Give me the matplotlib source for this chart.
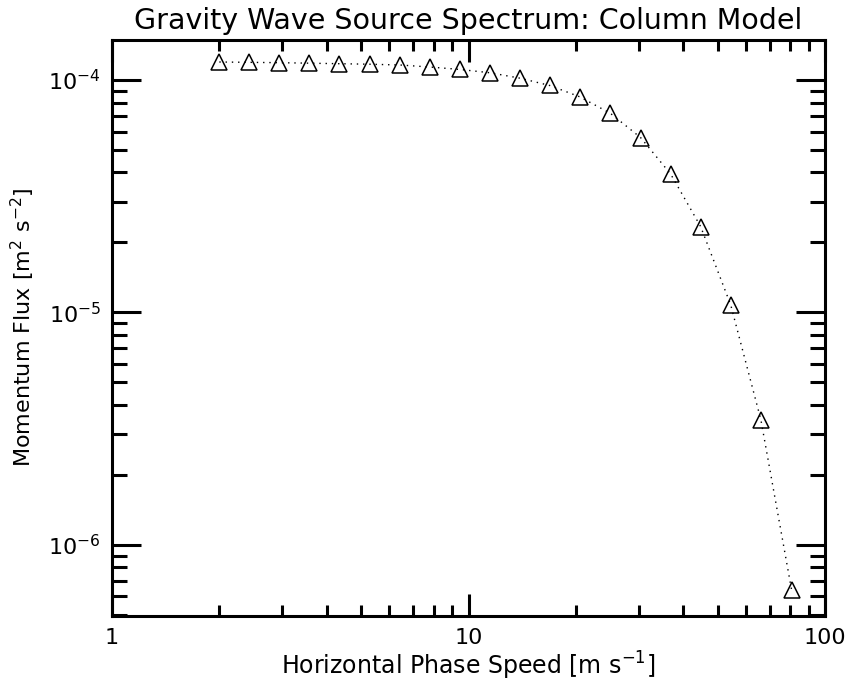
import numpy as np
import matplotlib
matplotlib.use("Agg")
import matplotlib.pyplot as plt
from matplotlib.ticker import FixedLocator, FuncFormatter, NullFormatter

# values
phase_speed = [2.0, 2.43, 2.95, 3.58, 4.34, 5.29, 6.43, 7.80, 9.47, 11.5,
               13.95, 16.9, 20.5, 25.0, 30.4, 36.9, 44.8, 54.4, 66.1, 80.6]
mom_flux = [1.195e-4, 1.191e-4, 1.187e-4, 1.181e-4, 1.175e-4, 1.169e-4,
            1.160e-4, 1.137e-4, 1.110e-4, 1.074e-4, 1.018e-4, 0.947e-4,
            0.847e-4, 0.719e-4, 0.565e-4, 0.394e-4, 2.34e-5, 1.077e-5,
            3.45e-6, 6.4e-7]

title = "Gravity Wave Source Spectrum: Column Model"
xlabel = "Horizontal Phase Speed [m s$^{-1}$]"
ylabel = "Momentum Flux [m$^{2}$ s$^{-2}$]"

plt.rcParams['font.family'] = ['DejaVu Sans']
plt.rcParams['mathtext.fontset'] = 'dejavusans'

fig = plt.figure(figsize=(8.49, 6.88), dpi=100)
ax = fig.add_axes([112 / 849, 1 - 615.5 / 688, 713 / 849, 575.5 / 688])

ax.plot(phase_speed, mom_flux, color='black', linestyle=(0, (1, 3.5)), linewidth=1.0)
ax.plot(phase_speed, mom_flux, linestyle='none', marker='^', markersize=12,
        markerfacecolor='none', markeredgecolor='black', markeredgewidth=1.1)

ax.set_xscale('log')
ax.set_yscale('log')
ax.set_xlim(1, 100)
ax.set_ylim(4.97e-7, 1.486e-4)

ax.xaxis.set_major_locator(FixedLocator([1, 10, 100]))
ax.xaxis.set_minor_locator(FixedLocator([m * d for d in (1, 10) for m in range(2, 10)]))
ax.xaxis.set_major_formatter(FuncFormatter(lambda v, p: "%d" % round(v)))
ax.xaxis.set_minor_formatter(NullFormatter())

ax.yaxis.set_major_locator(FixedLocator([1e-6, 1e-5, 1e-4]))
ax.yaxis.set_minor_locator(FixedLocator([m * d for d in (1e-7, 1e-6, 1e-5, 1e-4) for m in range(2, 10)]))
ax.yaxis.set_major_formatter(FuncFormatter(lambda v, p: r"$10^{%d}$" % round(np.log10(v))))
ax.yaxis.set_minor_formatter(NullFormatter())

for s in ax.spines.values():
    s.set_linewidth(2.2)

ax.tick_params(which='both', direction='in', top=True, right=True, width=2.2,
               labelsize=16, colors='black')
ax.tick_params(axis='x', which='major', length=16, pad=9)
ax.tick_params(axis='x', which='minor', length=8)
ax.tick_params(axis='y', which='major', length=21, pad=8)
ax.tick_params(axis='y', which='minor', length=10.5)

ax.set_xlabel(xlabel, fontsize=17, labelpad=1)
ax.set_ylabel(ylabel, fontsize=16, labelpad=8)
ax.set_title(title, fontsize=20.5, pad=8)

fig.savefig("out.png", dpi=100)
